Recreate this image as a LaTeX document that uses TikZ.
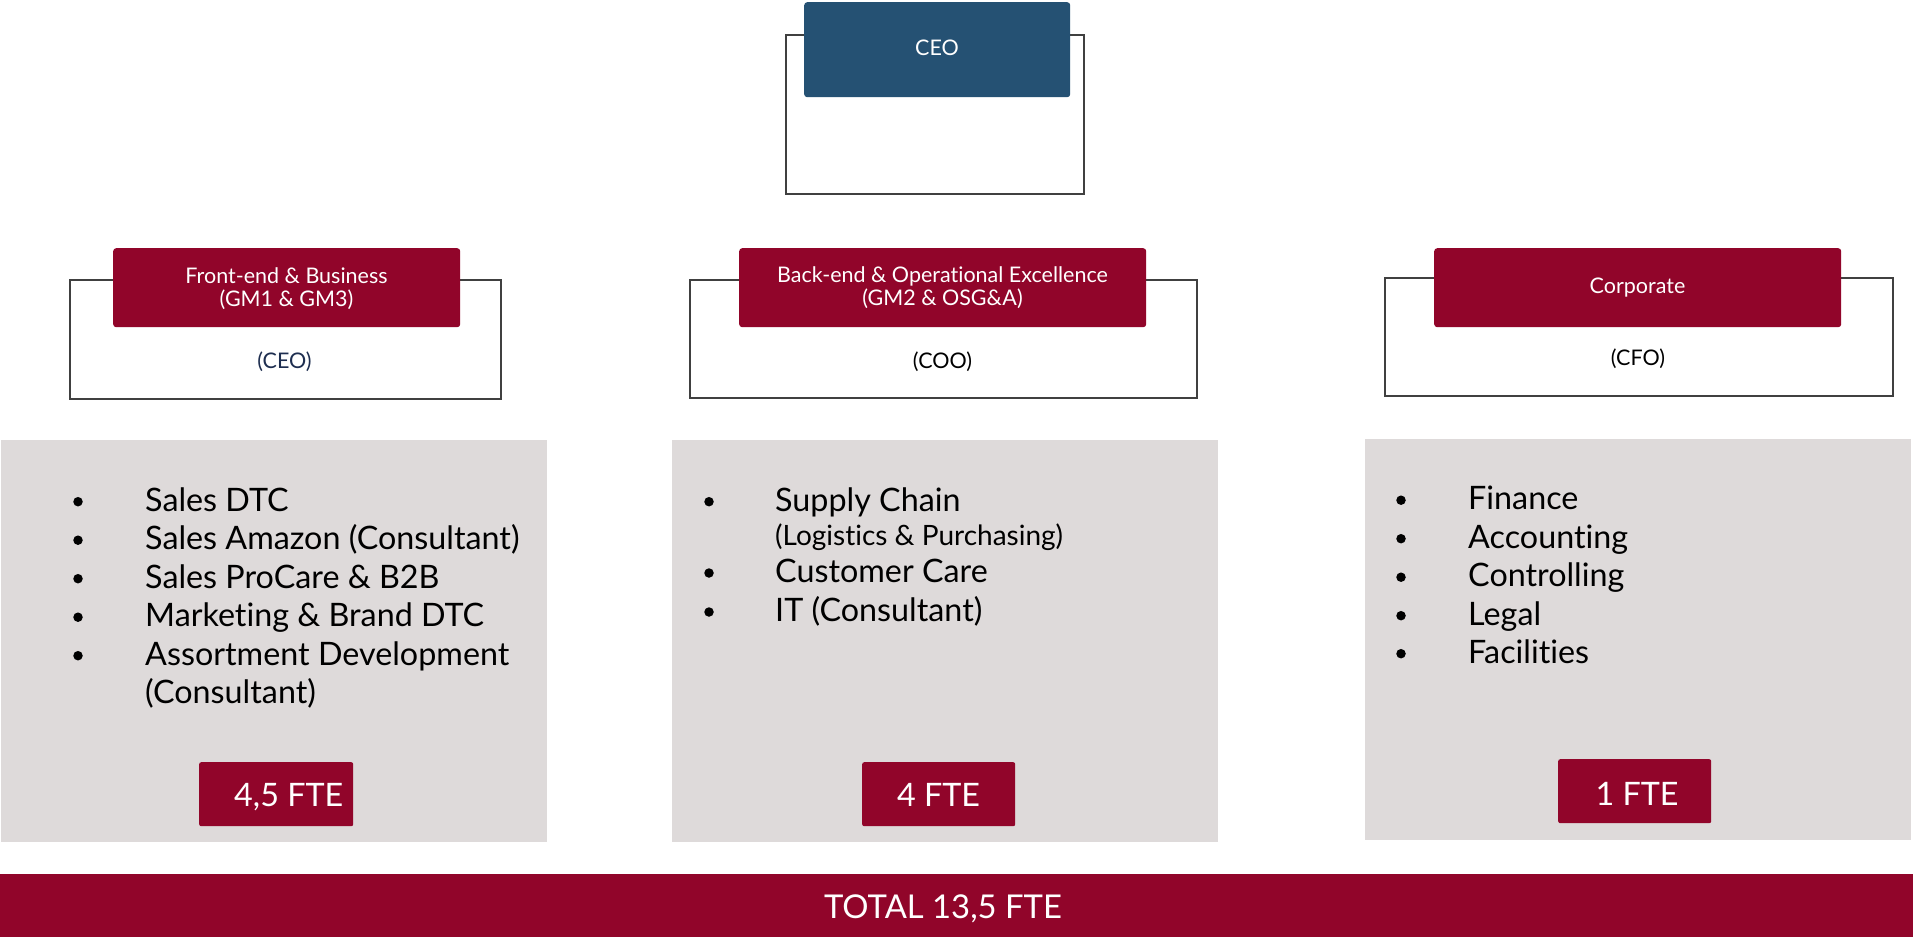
\documentclass[tikz,border=0pt]{standalone}
\usepackage{fontspec}
\setmainfont[Ligatures={NoCommon,NoContextual}]{Lato}
\definecolor{ceoblue}{RGB}{37,81,115}
\definecolor{brandred}{RGB}{145,5,42}
\definecolor{boxgrey}{RGB}{222,218,218}
\definecolor{linegrey}{RGB}{64,64,64}
\definecolor{navytext}{RGB}{30,46,80}
\begin{document}
\begin{tikzpicture}[x=1pt,y=-1pt,
  outerbox/.style={draw=linegrey,line width=2pt,fill=white,inner sep=0pt,anchor=north west},
  headbox/.style={fill=brandred,rounded corners=3pt,inner sep=0pt,anchor=north west},
  bluebox/.style={fill=ceoblue,rounded corners=3pt,inner sep=0pt,anchor=north west},
  greybox/.style={fill=boxgrey,inner sep=0pt,anchor=north west},
  ftebox/.style={fill=brandred,rounded corners=2pt,inner sep=0pt,anchor=north west},
  headtxt/.style={text=white,inner sep=0pt,anchor=base,font=\fontsize{21.5}{23.3}\selectfont},
  subtxt/.style={text=black,inner sep=0pt,anchor=base,font=\fontsize{21.5}{23.3}\selectfont},
  itemtxt/.style={text=black,inner sep=0pt,anchor=base west,font=\fontsize{32.3}{38.5}\selectfont},
  smalltxt/.style={text=black,inner sep=0pt,anchor=base west,font=\fontsize{28}{30}\selectfont},
  bigwhite/.style={text=white,inner sep=0pt,font=\fontsize{32.3}{38.5}\selectfont},
  dot/.style={circle,fill=black,minimum size=9.5pt,inner sep=0pt}
]
\useasboundingbox (0,0) rectangle (1913,937);
\fill[white] (0,0) rectangle (1913,937);

% CEO
\node[outerbox,minimum width=298pt,minimum height=159pt] (ceoout) at (785,34) {};
\node[bluebox,minimum width=266pt,minimum height=95pt] (ceo) at (804,2) {};
\node[headtxt] (ceot) at (937,55.7) {CEO};

% Front-end
\node[outerbox,minimum width=431pt,minimum height=119pt] (fbout) at (69,279) {};
\node[headbox,minimum width=347pt,minimum height=79pt] (fb) at (113,248) {};
\node[headtxt] (fbt1) at (286.5,283.3) {Front-end \& Business};
\node[headtxt] (fbt2) at (286.5,306.7) {(GM1 \& GM3)};
\node[subtxt,text=navytext] (fbs) at (284.5,368.3) {(CEO)};

% Back-end
\node[outerbox,minimum width=507pt,minimum height=118pt] (beout) at (689,279) {};
\node[headbox,minimum width=407pt,minimum height=79pt] (be) at (739,248) {};
\node[headtxt] (bet1) at (942.5,282.3) {Back-end \& Operational Excellence};
\node[headtxt] (bet2) at (942.5,305.5) {(GM2 \& OSG\&A)};
\node[subtxt] (bes) at (942.5,368.3) {(COO)};

% Corporate
\node[outerbox,minimum width=508pt,minimum height=118pt] (coout) at (1384,277) {};
\node[headbox,minimum width=407pt,minimum height=79pt] (co) at (1434,248) {};
\node[headtxt] (cot) at (1637.5,293.3) {Corporate};
\node[subtxt] (cos) at (1638,365) {(CFO)};

% Grey panels
\node[greybox,minimum width=546pt,minimum height=402pt] (gl) at (1,440) {};
\node[greybox,minimum width=546pt,minimum height=402pt] (gm) at (672,440) {};
\node[greybox,minimum width=546pt,minimum height=401pt] (gr) at (1365,439) {};

% Left list
\node[dot] (lb1) at (78,501.7) {};
\node[dot] (lb2) at (78,540.2) {};
\node[dot] (lb3) at (78,578.7) {};
\node[dot] (lb4) at (78,617.2) {};
\node[dot] (lb5) at (78,655.7) {};
\node[itemtxt] (l1) at (145,511) {Sales DTC};
\node[itemtxt] (l2) at (145,549.5) {Sales Amazon (Consultant)};
\node[itemtxt] (l3) at (145,588) {Sales ProCare \& B2B};
\node[itemtxt] (l4) at (145,626.5) {Marketing \& Brand DTC};
\node[itemtxt] (l5) at (145,665) {Assortment Development};
\node[itemtxt] (l6) at (145,703.5) {(Consultant)};

% Middle list
\node[dot] (mb1) at (709,501.7) {};
\node[dot] (mb2) at (709,573) {};
\node[dot] (mb3) at (709,612) {};
\node[itemtxt] (m1) at (775,511) {Supply Chain};
\node[smalltxt] (m2) at (775,545) {(Logistics \& Purchasing)};
\node[itemtxt] (m3) at (775,582.3) {Customer Care};
\node[itemtxt] (m4) at (775,621.5) {IT (Consultant)};

% Right list
\node[dot] (rb1) at (1401,500.2) {};
\node[dot] (rb2) at (1401,538.7) {};
\node[dot] (rb3) at (1401,577.2) {};
\node[dot] (rb4) at (1401,615.7) {};
\node[dot] (rb5) at (1401,653.7) {};
\node[itemtxt] (r1) at (1468,509.5) {Finance};
\node[itemtxt] (r2) at (1468,548) {Accounting};
\node[itemtxt] (r3) at (1468,586.5) {Controlling};
\node[itemtxt] (r4) at (1468,625) {Legal};
\node[itemtxt] (r5) at (1468,663) {Facilities};

% FTE boxes
\node[ftebox,minimum width=154pt,minimum height=64pt] (fl) at (199,762) {};
\node[ftebox,minimum width=153pt,minimum height=64pt] (fm) at (862,762) {};
\node[ftebox,minimum width=153pt,minimum height=64pt] (fr) at (1558,759) {};
\node[bigwhite,anchor=base west] (flt) at (234,806) {4,5 FTE};
\node[bigwhite,anchor=base] (fmt) at (938.5,806) {4 FTE};
\node[bigwhite,anchor=base] (frt) at (1637,805.7) {1 FTE};

% Total bar
\node[greybox,fill=brandred,minimum width=1913pt,minimum height=63pt] (tot) at (0,874) {};
\node[bigwhite,anchor=base,font=\fontsize{32.8}{38.5}\selectfont] (tott) at (943,918) {TOTAL 13,5 FTE};
\end{tikzpicture}
\end{document}
